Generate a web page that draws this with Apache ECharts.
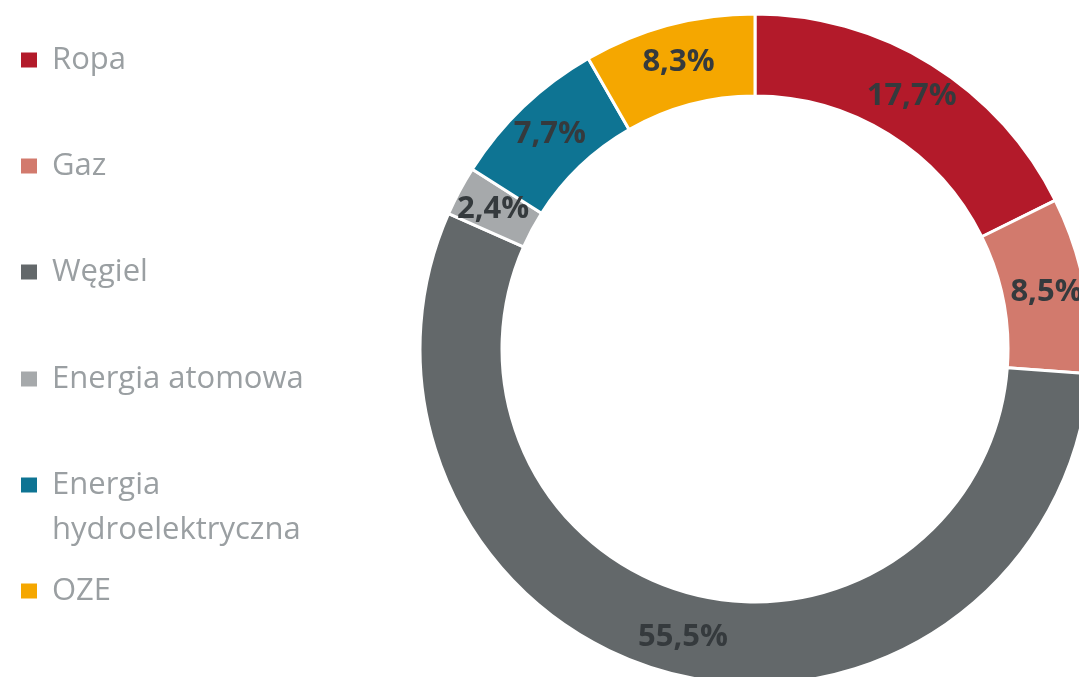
<!DOCTYPE html>
<html>
<head>
<meta charset="utf-8">
<script src="https://cdn.jsdelivr.net/npm/echarts@6/dist/echarts.min.js"></script>
<style>
  html, body { margin: 0; padding: 0; background: #fff; }
  #chart { width: 1079px; height: 677px; }
</style>
</head>
<body>
<div id="chart"></div>
<script>
// struktura zużycia energii
const categories = ['Ropa', 'Gaz', 'Węgiel', 'Energia atomowa', 'Energia hydroelektryczna', 'OZE'];
const shares = [17.7, 8.5, 55.5, 2.4, 7.7, 8.3];
const colors = ['#B31A2A', '#D27A6D', '#63686A', '#A6A9AB', '#0E7493', '#F5A700'];

// pozycje pionowe wpisów legendy (środek ikony)
const legendY = [60, 166, 272, 379, 485, 591];

const chart = echarts.init(document.getElementById('chart'));

const legends = categories.map((name, i) => {
  const twoLines = name === 'Energia hydroelektryczna';
  const lh = twoLines ? 45 : 34;
  return {
    orient: 'vertical',
    left: 21,
    top: twoLines ? legendY[i] - lh * 1.5 : legendY[i] - lh / 2,
    padding: 0,
    data: [name],
    icon: 'rect',
    itemWidth: 16,
    itemHeight: 15,
    itemStyle: { borderWidth: 0 },
    selectedMode: false,
    // pusta linia na górze, żeby ikona stała przy pierwszym wierszu
    formatter: (n) => n === 'Energia hydroelektryczna' ? ' \nEnergia\nhydroelektryczna' : n,
    textStyle: {
      color: '#9A9FA2',
      fontFamily: 'Open Sans',
      fontSize: 31,
      lineHeight: lh,
      padding: [0, 0, 0, 10],
    },
  };
});

const option = {
  animation: false,
  color: colors,
  legend: legends,
  series: [
    {
      type: 'pie',
      center: [755, 349],
      radius: [253, 335],
      startAngle: 90,
      clockwise: true,
      avoidLabelOverlap: false,
      itemStyle: {
        borderColor: '#fff',
        borderWidth: 3,
      },
      label: {
        show: true,
        position: 'inside',
        formatter: (p) => p.value.toFixed(1).replace('.', ',') + '%',
        color: '#353A3D',
        fontFamily: 'Open Sans',
        fontWeight: 'bold',
        fontSize: 31,
      },
      labelLine: { show: false },
      emphasis: { disabled: true },
      data: categories.map((name, i) => ({ name: name, value: shares[i] })),
    },
  ],
};

chart.setOption(option);
</script>
</body>
</html>
